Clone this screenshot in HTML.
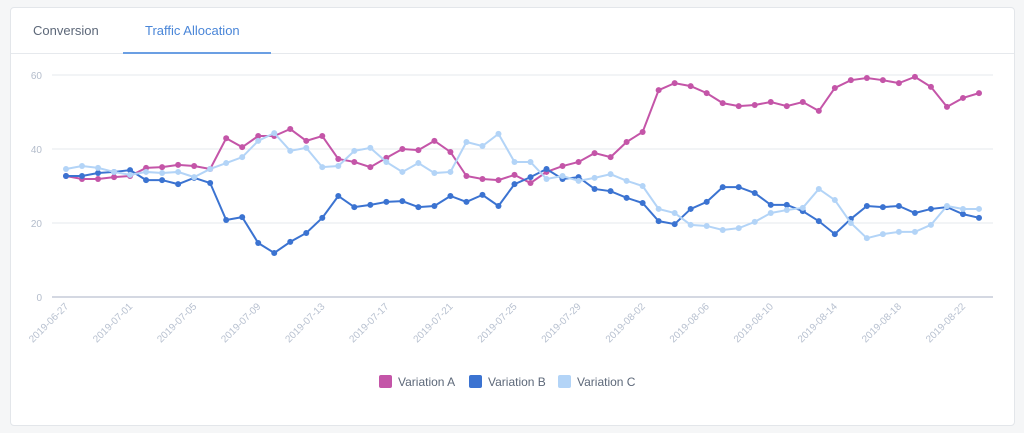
<!DOCTYPE html>
<html><head><meta charset="utf-8"><style>
body{margin:0;width:1024px;height:433px;background:#f5f6f7;font-family:"Liberation Sans",sans-serif;overflow:hidden;position:relative}
.card{position:absolute;left:10px;top:7px;width:1003px;height:417px;background:#fff;border:1px solid #e3e6ea;border-radius:4px}
.tab{position:absolute;top:15px;font-size:13px}
</style></head><body>
<div class="card">
<div class="tab" style="left:22px;color:#5d6879">Conversion</div>
<div class="tab" style="left:134px;color:#4a86d8">Traffic Allocation</div>
<div style="position:absolute;left:0;right:0;top:45px;height:1px;background:#e6e9ed"></div>
<div style="position:absolute;left:112px;width:148px;top:44px;height:2px;background:#6b9fe3"></div>
</div>
<svg id="chart" width="1024" height="433" style="position:absolute;left:0;top:0"></svg>
<script>
const dates=[];(function(){let d=new Date(Date.UTC(2019,5,27));for(let i=0;i<58;i++){dates.push(d.toISOString().slice(0,10));d=new Date(d.getTime()+86400000);}})();
const yTicks=[0,20,40,60];
const seriesA=[32.7,31.9,31.9,32.4,32.7,34.9,35.1,35.7,35.4,34.6,42.9,40.5,43.5,43.5,45.4,42.2,43.5,37.3,36.5,35.1,37.6,40,39.7,42.2,39.2,32.7,31.9,31.6,33,30.8,33.8,35.4,36.5,38.9,37.8,41.9,44.6,55.9,57.8,57,55.1,52.4,51.6,51.9,52.7,51.6,52.7,50.3,56.5,58.6,59.2,58.6,57.8,59.5,56.8,51.4,53.8,55.1];
const seriesB=[32.7,32.7,33.5,33.8,34.3,31.6,31.6,30.5,32.2,30.8,20.8,21.6,14.6,11.9,14.9,17.3,21.4,27.3,24.3,24.9,25.7,25.9,24.3,24.6,27.3,25.7,27.6,24.6,30.5,32.4,34.6,31.9,32.4,29.2,28.6,26.8,25.4,20.5,19.7,23.8,25.7,29.7,29.7,28.1,24.9,24.9,23.2,20.5,17,21.1,24.6,24.3,24.6,22.7,23.8,24.3,22.4,21.4];
const seriesC=[34.6,35.4,34.9,33.8,33,33.8,33.5,33.8,32.4,34.6,36.2,37.8,42.2,44.3,39.5,40.3,35.1,35.4,39.5,40.3,36.5,33.8,36.2,33.5,33.8,41.9,40.8,44.1,36.5,36.5,31.9,32.7,31.4,32.2,33.2,31.4,30,23.8,22.7,19.5,19.2,18.1,18.6,20.3,22.7,23.5,24.1,29.2,26.2,20,15.9,17,17.6,17.6,19.5,24.6,23.8,23.8];
const seriesNames=["Variation A","Variation B","Variation C"];
const colors=["#c455a8","#3b73d1","#b3d4f7"];
const svg=document.getElementById('chart');const NS='http://www.w3.org/2000/svg';
const x=i=>66+i*(979-66)/(dates.length-1);
const y=v=>297-v*(297-75)/60;
function mk(t,a,p){const e=document.createElementNS(NS,t);for(const k in a)e.setAttribute(k,a[k]);(p||svg).appendChild(e);return e;}
yTicks.forEach(t=>{
const l=mk('line',{x1:52,x2:993,y1:y(t),y2:y(t),stroke:t===0?'#c5ccd8':'#e6e9ee','stroke-width':t===0?1.5:1});


const tx=mk('text',{x:42,y:y(t)+4,'text-anchor':'end','font-size':10,fill:'#b3bccb'});tx.textContent=t;


});
dates.forEach((d,i)=>{if(i%4)return;
const tx=mk('text',{x:x(i)+3,y:307,'text-anchor':'end','font-size':10,fill:'#b8c1d0',transform:`rotate(-45 ${x(i)+3} 307)`});tx.textContent=d;


});
[seriesA,seriesB,seriesC].forEach((s,k)=>{
const g=mk('g',{});


const p=mk('polyline',{points:s.map((v,i)=>x(i)+','+y(v)).join(' '),fill:'none',stroke:colors[k],'stroke-width':2},g);


s.forEach((v,i)=>{const c=mk('circle',{cx:x(i),cy:y(v),r:3,fill:colors[k]},g);

});
});
const lx=[379,469,558];
seriesNames.forEach((n,k)=>{
const g=mk('g',{});


mk('rect',{x:lx[k],y:375,width:13,height:13,rx:2,fill:colors[k]},g);
const t=mk('text',{x:lx[k]+19,y:386,'font-size':12,fill:'#5d6879'},g);t.textContent=n;
});
</script>
</body></html>
